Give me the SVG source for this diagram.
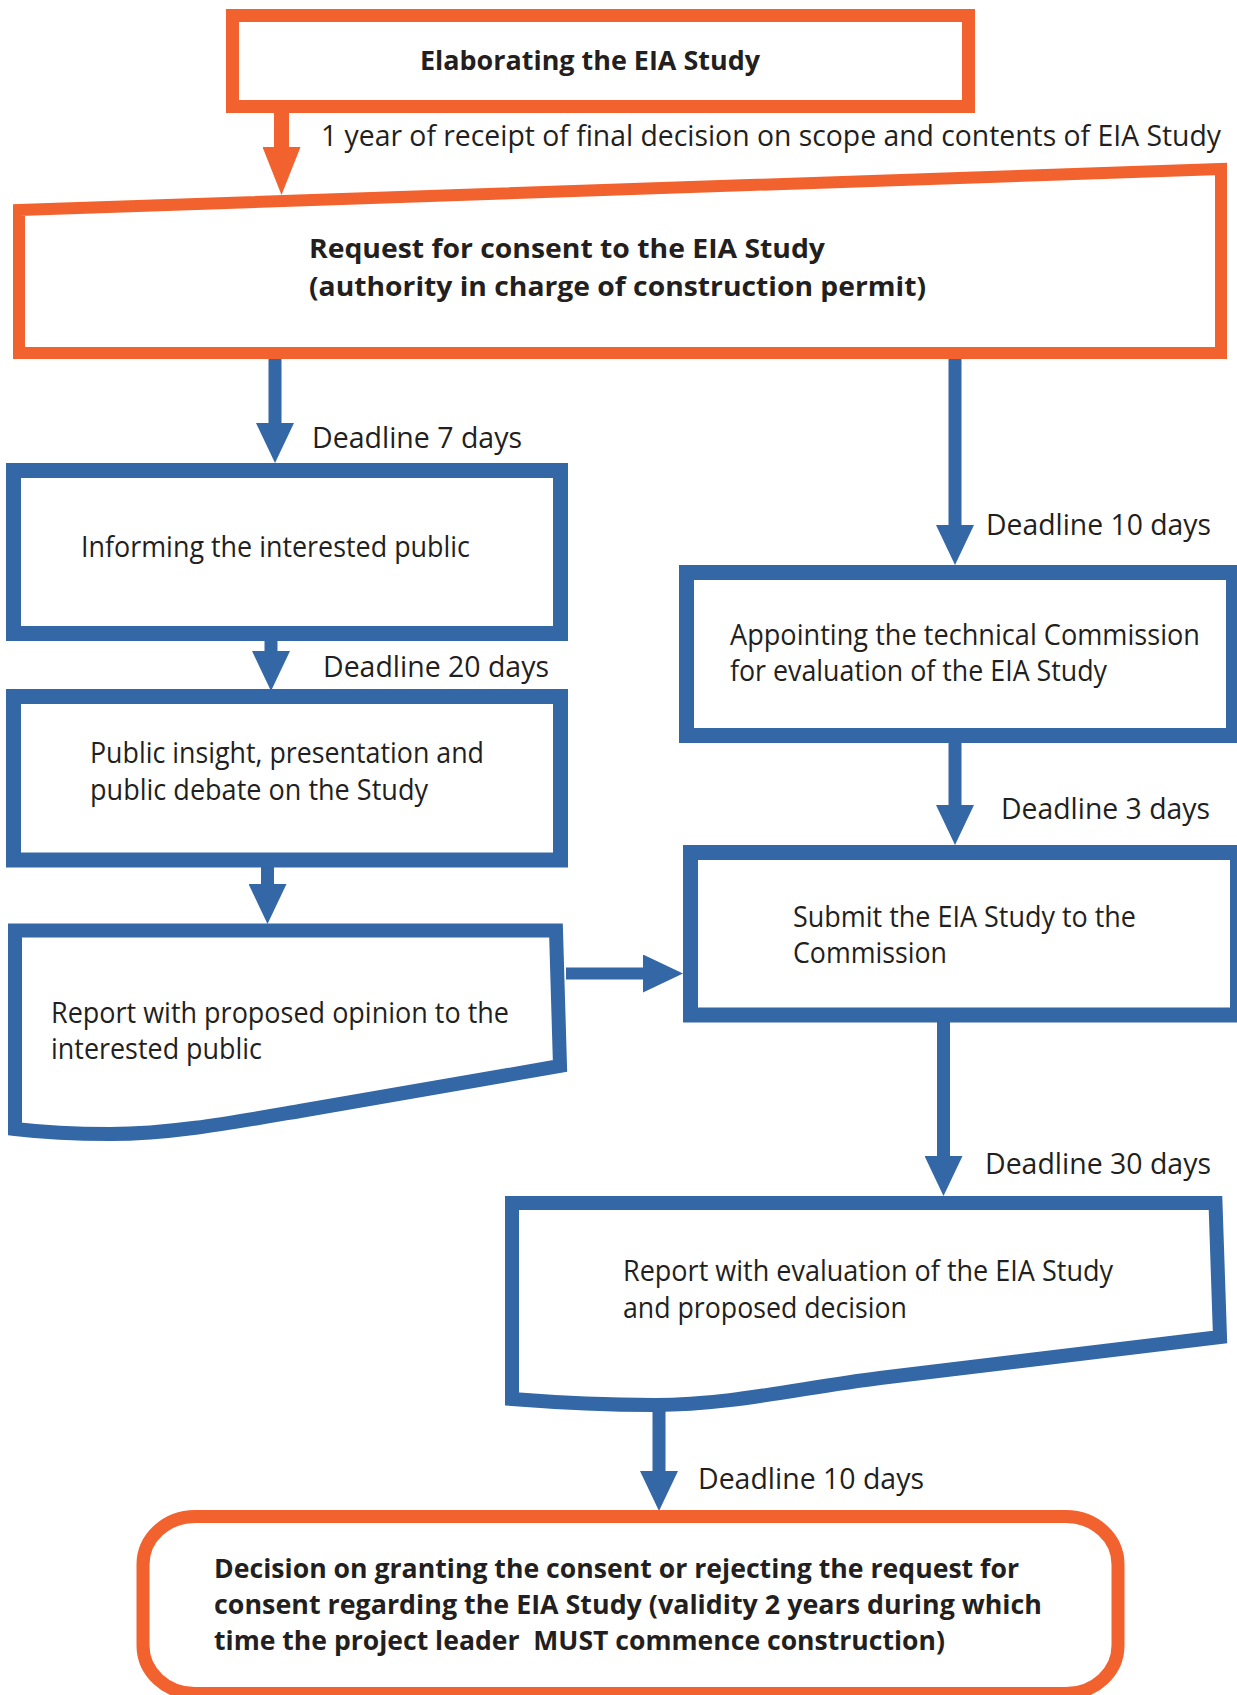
<svg xmlns="http://www.w3.org/2000/svg" width="1237" height="1695" viewBox="0 0 1237 1695">
<style>
.bg{fill:#ffffff}
.or{fill:#ffffff;stroke:#F1622E;stroke-linejoin:miter}
.bl{fill:#ffffff;stroke:#3467A6;stroke-width:15;stroke-linejoin:miter}
.t{font-family:"Open Sans","Noto Sans","Liberation Sans",sans-serif;font-size:29px;fill:#231F20}
.tb{font-family:"Open Sans","Noto Sans","Liberation Sans",sans-serif;font-size:27px;font-weight:700;fill:#231F20}
.cb{stroke:#3467A6;stroke-width:13;fill:none}
.co{stroke:#F1622E;stroke-width:15;fill:none}
</style>
<defs>
<marker id="hb" markerUnits="userSpaceOnUse" viewBox="0 0 40 38" markerWidth="40" markerHeight="38" refX="0" refY="19" orient="auto">
<path d="M0,0 L40,19 L0,38 Z" fill="#3467A6"/>
</marker>
<marker id="ho" markerUnits="userSpaceOnUse" viewBox="0 0 48 38" markerWidth="48" markerHeight="38" refX="0" refY="19" orient="auto">
<path d="M0,0 L48,19 L0,38 Z" fill="#F1622E"/>
</marker>
</defs>
<rect class="bg" x="0" y="0" width="1237" height="1695"/>

<g id="connectors">
<line class="co" x1="281.5" y1="112" x2="281.5" y2="147" marker-end="url(#ho)"/>
<line class="cb" x1="275" y1="357" x2="275" y2="423" marker-end="url(#hb)"/>
<line class="cb" x1="271" y1="640" x2="271" y2="651" marker-end="url(#hb)"/>
<line class="cb" x1="267.5" y1="867" x2="267.5" y2="884" marker-end="url(#hb)"/>
<line class="cb" x1="955" y1="353" x2="955" y2="525" marker-end="url(#hb)"/>
<line class="cb" x1="955" y1="742" x2="955" y2="805" marker-end="url(#hb)"/>
<line class="cb" x1="943.5" y1="1022" x2="943.5" y2="1156" marker-end="url(#hb)"/>
<line class="cb" x1="659" y1="1403" x2="659" y2="1471" marker-end="url(#hb)"/>
<line class="cb" style="stroke-width:12" x1="566" y1="973.5" x2="643" y2="973.5" marker-end="url(#hb)"/>
<text class="t" x="321" y="146" textLength="900" lengthAdjust="spacingAndGlyphs">1 year of receipt of final decision on scope and contents of EIA Study</text>
<text class="t" x="312" y="448" textLength="210" lengthAdjust="spacingAndGlyphs">Deadline 7 days</text>
<text class="t" x="323" y="677" textLength="226" lengthAdjust="spacingAndGlyphs">Deadline 20 days</text>
<text class="t" x="986" y="535" textLength="225" lengthAdjust="spacingAndGlyphs">Deadline 10 days</text>
<text class="t" x="1001" y="819" textLength="209" lengthAdjust="spacingAndGlyphs">Deadline 3 days</text>
<text class="t" x="985" y="1174" textLength="226" lengthAdjust="spacingAndGlyphs">Deadline 30 days</text>
<text class="t" x="698" y="1489" textLength="226" lengthAdjust="spacingAndGlyphs">Deadline 10 days</text>
</g>

<g id="elaborating">
<rect class="or" style="stroke-width:13" x="232.5" y="15.5" width="736" height="91"/>
<text class="tb" x="420" y="70" textLength="340" lengthAdjust="spacingAndGlyphs">Elaborating the EIA Study</text>
</g>

<g id="request">
<path class="or" style="stroke-width:12" d="M19,210 L1221,169 L1221,353 L19,353 Z"/>
<text class="tb" x="309" y="258" textLength="516" lengthAdjust="spacingAndGlyphs">Request for consent to the EIA Study</text>
<text class="tb" x="309" y="296" textLength="617" lengthAdjust="spacingAndGlyphs">(authority in charge of construction permit)</text>
</g>

<g id="informing">
<rect class="bl" x="13.5" y="470.5" width="547" height="163"/>
<text class="t" x="81" y="557" textLength="389" lengthAdjust="spacingAndGlyphs">Informing the interested public</text>
</g>

<g id="public-insight">
<rect class="bl" x="13.5" y="696.5" width="547" height="163.5"/>
<text class="t" x="90" y="763" textLength="394" lengthAdjust="spacingAndGlyphs">Public insight, presentation and</text>
<text class="t" x="90" y="800" textLength="338" lengthAdjust="spacingAndGlyphs">public debate on the Study</text>
</g>

<g id="report-opinion">
<path class="bl" style="stroke-width:14" d="M15,930.5 L556,930.5 L560,1066 L300,1111 C230,1123 170,1134 110,1134 C70,1134 40,1132 15,1129 Z"/>
<text class="t" x="51" y="1023" textLength="458" lengthAdjust="spacingAndGlyphs">Report with proposed opinion to the</text>
<text class="t" x="51" y="1059" textLength="211" lengthAdjust="spacingAndGlyphs">interested public</text>
</g>

<g id="appointing">
<rect class="bl" x="686.5" y="572.5" width="547" height="163"/>
<text class="t" x="730" y="645" textLength="470" lengthAdjust="spacingAndGlyphs">Appointing the technical Commission</text>
<text class="t" x="730" y="681" textLength="377" lengthAdjust="spacingAndGlyphs">for evaluation of the EIA Study</text>
</g>

<g id="submit">
<rect class="bl" x="690.5" y="852.5" width="547" height="162.5"/>
<text class="t" x="793" y="927" textLength="343" lengthAdjust="spacingAndGlyphs">Submit the EIA Study to the</text>
<text class="t" x="793" y="963" textLength="154" lengthAdjust="spacingAndGlyphs">Commission</text>
</g>

<g id="report-evaluation">
<path class="bl" style="stroke-width:14" d="M512,1203 L1215.5,1203 L1220,1337 L880,1378 C800,1388 730,1405 655,1405 C600,1405 550,1402 512,1399 Z"/>
<text class="t" x="623" y="1281" textLength="490" lengthAdjust="spacingAndGlyphs">Report with evaluation of the EIA Study</text>
<text class="t" x="623" y="1318" textLength="284" lengthAdjust="spacingAndGlyphs">and proposed decision</text>
</g>

<g id="decision">
<rect class="or" style="stroke-width:13" x="143" y="1516.5" width="975" height="177" rx="52" ry="48"/>
<text class="tb" x="214" y="1578" textLength="805" lengthAdjust="spacingAndGlyphs">Decision on granting the consent or rejecting the request for</text>
<text class="tb" x="214" y="1614" textLength="828" lengthAdjust="spacingAndGlyphs">consent regarding the EIA Study (validity 2 years during which</text>
<text class="tb" x="214" y="1650" textLength="731" lengthAdjust="spacingAndGlyphs">time the project leader&#160; MUST commence construction)</text>
</g>
</svg>
